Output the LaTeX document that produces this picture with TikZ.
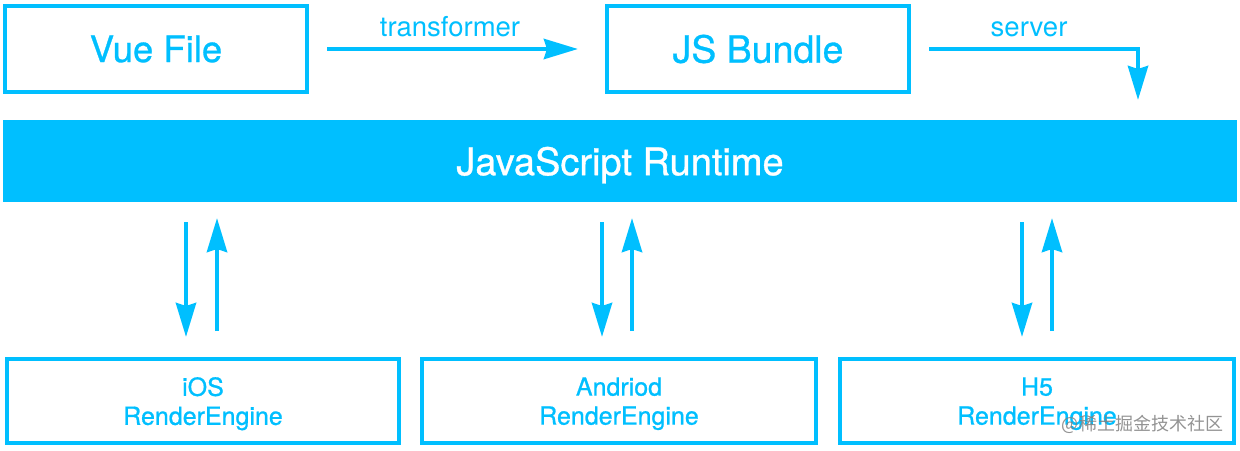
\documentclass[tikz,border=0pt]{standalone}
\usepackage{fontspec}
\setmainfont{TeX Gyre Heros}
\newfontfamily\medfont{TeX Gyre Heros}[FakeBold=0.8]
\newfontfamily\cjkfont{Noto Sans CJK SC}
\usetikzlibrary{arrows.meta}
\newlength{\du}
\setlength{\du}{1\unitlength}
\tikzset{
  diabox/.style={draw=dialinecolor, line width=4\du, inner sep=0pt, text=dialinecolor, align=center},
  conn/.style={draw=dialinecolor, line width=4.5\du, line join=miter, -{Stealth[length=34pt, width=20pt, inset=3pt]}},
  connlabel/.style={text=dialinecolor, font=\fontsize{27.5}{30}\selectfont},
}

\begin{document}
\begin{tikzpicture}
\pgftransformxscale{1.000000}
\pgftransformyscale{-1.000000}
\definecolor{dialinecolor}{rgb}{0.000000, 0.749020, 1.000000}
\pgfsetstrokecolor{dialinecolor}
\pgfsetlinewidth{4.000000\du}
\useasboundingbox (0.000000\du,0.000000\du) rectangle (1240.000000\du,450.000000\du);
% setfont left to latex
\node[diabox, minimum width=302\du, minimum height=86\du, font=\medfont\fontsize{36.5}{40}\selectfont] (vue) at (156.000000\du,49.000000\du){Vue File};
\node[diabox, minimum width=302\du, minimum height=86\du, font=\medfont\fontsize{37.5}{40}\selectfont] (bundle) at (758.000000\du,49.000000\du){JS Bundle};
\definecolor{dialinecolor}{rgb}{0.000000, 0.749020, 1.000000}
\pgfsetfillcolor{dialinecolor}
\node[fill=dialinecolor, outer sep=0pt, text depth=0pt, minimum width=1234\du, minimum height=82\du, text=white, font=\medfont\fontsize{38}{40}\selectfont] (runtime) at (620.000000\du,161.000000\du){JavaScript Runtime};
% setfont left to latex
\node[diabox, text depth=0pt, minimum width=392\du, minimum height=84\du, font=\medfont\fontsize{25}{29}\selectfont] (ios) at (203.000000\du,401.000000\du){iOS\\RenderEngine};
\node[diabox, text depth=0pt, minimum width=394\du, minimum height=84\du, font=\medfont\fontsize{25}{29}\selectfont] (android) at (619.000000\du,401.000000\du){Andriod\\RenderEngine};
\node[diabox, text depth=0pt, minimum width=394\du, minimum height=84\du, font=\medfont\fontsize{25}{29}\selectfont] (h5) at (1037.000000\du,401.000000\du){H5\\RenderEngine};
\coordinate (srv) at (1138.000000\du,100.000000\du);
\draw[conn, shorten <=18pt, shorten >=27pt] (vue) -- node[connlabel, above=7pt, xshift=-7pt] (trlabel) {transformer} (bundle);
\draw[conn, shorten <=18pt] (bundle.east) -| node[connlabel, pos=0.26, above=7pt] (srvlabel) {server} (srv);
\foreach \eng/\dx/\ux in {ios/-17/14, android/-17/13, h5/-15/15}{
  \draw[conn, shorten <=20pt, shorten >=20pt] ([xshift=\dx pt]\eng.north |- runtime.south) -- ([xshift=\dx pt]\eng.north);
  \draw[conn, shorten <=26pt, shorten >=16pt] ([xshift=\ux pt]\eng.north) -- ([xshift=\ux pt]\eng.north |- runtime.south);
}
% setfont left to latex
\node[text=black!50, opacity=0.85, inner sep=0pt, font=\cjkfont\fontsize{18}{22}\selectfont, anchor=east] (mark) at (1225.000000\du,424.000000\du){@稀土掘金技术社区};
\end{tikzpicture}
\end{document}
